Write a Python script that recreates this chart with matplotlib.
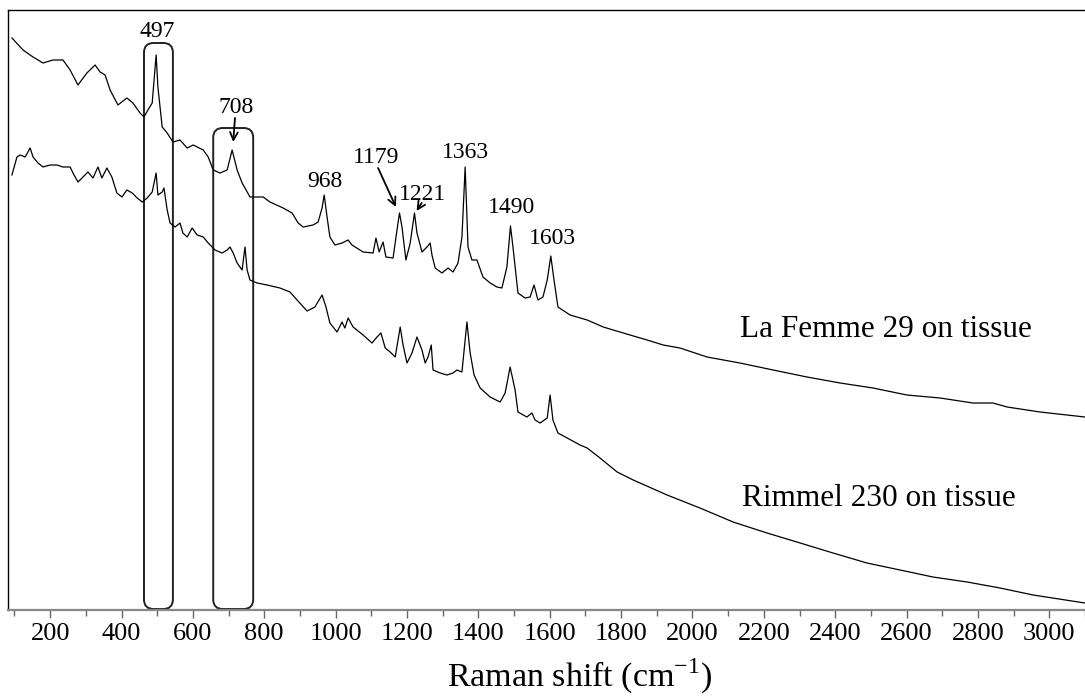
import matplotlib

matplotlib.use("Agg")
import matplotlib.pyplot as plt
from matplotlib.patches import FancyBboxPatch
from matplotlib.ticker import MultipleLocator

plt.rcParams["font.family"] = ["Liberation Serif", "DejaVu Serif"]
plt.rcParams["mathtext.fontset"] = "custom"
plt.rcParams["mathtext.rm"] = "Liberation Serif"

# La Femme 29 on tissue (upper trace), wavenumber / arbitrary intensity
femme_shift = [
    93, 124, 152, 180, 208, 236, 256, 278, 303, 326, 340, 354, 368, 390, 415,
    432, 452, 463, 474, 486, 497, 502, 514, 528, 544, 564, 584, 601, 629, 643,
    657, 676, 696, 710, 724, 738, 746, 760, 797, 816, 853, 878, 895, 909, 937,
    951, 962, 968, 976, 984, 998, 1018, 1035, 1046, 1077, 1105, 1113, 1122,
    1133, 1141, 1161, 1172, 1179, 1186, 1197, 1209, 1221, 1228, 1242, 1256,
    1265, 1270, 1279, 1298, 1315, 1329, 1343, 1354, 1363, 1371, 1382, 1396,
    1413, 1433, 1452, 1466, 1480, 1490, 1497, 1511, 1531, 1545, 1556, 1567,
    1581, 1593, 1603, 1612, 1623, 1657, 1705, 1750, 1778, 1825, 1873, 1918,
    1965, 2041, 2133, 2226, 2321, 2414, 2506, 2601, 2694, 2786, 2842, 2882,
    2974, 3100,
]
femme_intensity = [
    572, 560, 553, 547, 550, 550, 540, 525, 537, 545, 538, 535, 520, 505, 512,
    507, 497, 493, 500, 507, 555, 523, 483, 477, 468, 470, 462, 465, 460, 453,
    440, 437, 440, 460, 440, 427, 422, 413, 413, 408, 402, 397, 387, 383, 385,
    388, 402, 415, 393, 373, 365, 367, 370, 365, 358, 357, 372, 358,
    368, 353, 352, 380, 397, 383, 350, 367, 397, 377, 358, 363,
    367, 355, 342, 337, 342, 338, 347, 373, 443, 363, 350, 350,
    333, 327, 323, 322, 343, 384, 363, 317, 312, 313, 325, 310,
    313, 330, 354, 330, 303, 295, 290, 283, 280, 275, 270, 265,
    262, 253, 247, 240, 233, 227, 222, 215, 212, 207, 207, 203,
    198, 193,
]

# Rimmel 230 on tissue (lower trace)
rimmel_shift = [
    93, 107, 116, 130, 144, 152, 166, 180, 200, 219, 236, 256, 264, 278, 292,
    306, 320, 334, 345, 359, 373, 387, 401, 415, 430, 444, 458, 472, 486, 497,
    502, 514, 519, 528, 536, 550, 564, 572, 584, 598, 612, 629, 643, 662, 682,
    696, 704, 713, 724, 738, 746, 752, 760, 780, 808, 844, 872, 892, 920, 942,
    962, 973, 984, 1004, 1018, 1026, 1035, 1049, 1077, 1102, 1116, 1127, 1139,
    1153, 1167, 1181, 1189, 1200, 1214, 1228, 1242, 1251, 1259, 1268, 1273,
    1293, 1312, 1329, 1340, 1354, 1368, 1377, 1388, 1405, 1433, 1461, 1475,
    1489, 1503, 1511, 1536, 1550, 1559, 1573, 1593, 1601, 1609, 1623, 1649,
    1685, 1705, 1741, 1789, 1834, 1929, 2021, 2114, 2209, 2302, 2394, 2489,
    2582, 2674, 2770, 2862, 2955, 3100,
]
rimmel_intensity = [
    435, 453, 455, 453, 462, 453, 447, 443, 445, 445, 443, 443, 437, 428, 433,
    438, 432, 443, 432, 442, 433, 417, 413, 420, 417, 412, 408, 412, 418, 437,
    415, 418, 422, 400, 387, 383, 387, 377, 373, 382, 375, 373, 367, 360, 357,
    360, 363, 357, 347, 340, 363, 340, 330, 327, 325, 322, 318, 310, 299, 303,
    315, 303, 287, 278, 288, 282, 292, 283, 275, 267, 273, 277, 262,
    258, 253, 283, 265, 247, 257, 273, 260, 247, 253, 265, 240,
    237, 235, 237, 240, 238, 288, 257, 235, 222, 213, 208, 217,
    243, 220, 198, 193, 197, 190, 187, 192, 215, 190, 177, 172,
    165, 162, 152, 138, 130, 115, 102, 88, 77, 67, 57, 47,
    40, 33, 28, 22, 15, 7,
]

# Peak labels: text, x, baseline y
peak_labels = ["497", "708", "968", "1179", "1221", "1363", "1490", "1603"]
peak_label_x = [500, 721, 971, 1113, 1245, 1365, 1494, 1607]
peak_label_y = [573, 497, 423, 447, 410, 452, 397, 366]

# Arrows for some labels: (tail x, tail y) -> (head x, head y)
arrow_tail = [(718, 492), (1119, 442), (1241, 407)]
arrow_head = [(713, 468), (1169, 403), (1227, 399)]

# Highlight boxes: x range and top
box_x0 = [463, 657]
box_x1 = [544, 769]
box_top = [567, 482]

sample_names = ["La Femme 29 on tissue", "Rimmel 230 on tissue"]
sample_label_x = [2133, 2139]
sample_label_y = [273, 104]

X_MIN, X_MAX = 82, 3100
Y_MIN, Y_MAX = 0, 600


def main():
    fig = plt.figure(figsize=(10.85, 6.99), dpi=100)
    ax = fig.add_axes([0.0074, 0.1273, 0.9926, 0.8584])

    ax.plot(femme_shift, femme_intensity, color="black", linewidth=0.9)
    ax.plot(rimmel_shift, rimmel_intensity, color="black", linewidth=0.9)

    # Rounded boxes around the 497 and 708 bands
    x_per_y = (X_MAX - X_MIN) / ax.bbox.width / ((Y_MAX - Y_MIN) / ax.bbox.height)
    for x0, x1, top in zip(box_x0, box_x1, box_top):
        box = FancyBboxPatch(
            (x0, 1), x1 - x0, top - 1,
            boxstyle="round,pad=0,rounding_size=27",
            mutation_aspect=1 / x_per_y,
            facecolor="none", edgecolor="#222222", linewidth=1.4,
        )
        ax.add_patch(box)

    for text, x, y in zip(peak_labels, peak_label_x, peak_label_y):
        ax.text(x, y, text, fontsize=17, ha="center", va="baseline")

    for tail, head in zip(arrow_tail, arrow_head):
        ax.annotate(
            "", xy=head, xytext=tail,
            arrowprops=dict(arrowstyle="->", color="black", lw=1.3,
                            mutation_scale=14, shrinkA=0, shrinkB=0),
        )

    for name, x, y in zip(sample_names, sample_label_x, sample_label_y):
        ax.text(x, y, name, fontsize=22.5, ha="left", va="baseline")

    ax.set_xlim(X_MIN, X_MAX)
    ax.set_ylim(Y_MIN, Y_MAX)
    ax.xaxis.set_major_locator(MultipleLocator(200))
    ax.xaxis.set_minor_locator(MultipleLocator(100))
    ax.set_yticks([])
    ax.tick_params(axis="x", which="major", length=6, width=1, color="#666666",
                   labelsize=19, pad=3)
    ax.tick_params(axis="x", which="minor", length=4, width=1, color="#666666")

    ax.spines["right"].set_visible(False)
    ax.spines["bottom"].set_color("#888888")
    ax.spines["bottom"].set_linewidth(1.6)
    ax.spines["left"].set_linewidth(1.0)
    ax.spines["top"].set_linewidth(1.0)

    ax.set_xlabel("Raman shift (cm$^{\\mathregular{-1}}$)", fontsize=24.5)
    ax.xaxis.label.set_verticalalignment("baseline")
    ax.xaxis.set_label_coords(0.531, -0.128)

    fig.savefig("out.png", dpi=100)
    plt.close(fig)


if __name__ == "__main__":
    main()
